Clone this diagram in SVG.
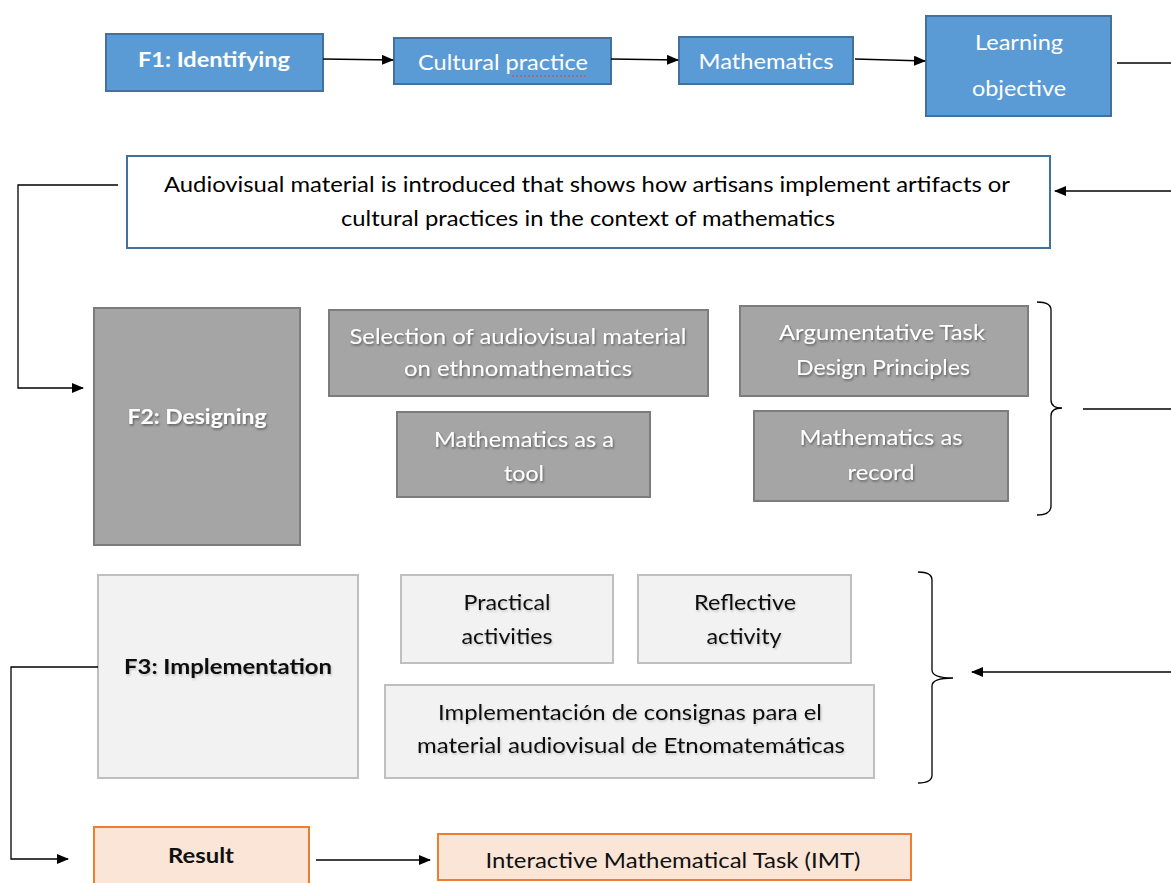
<svg xmlns="http://www.w3.org/2000/svg" width="1171" height="883" viewBox="0 0 1171 883">
<defs>
<marker id="ah" markerWidth="12" markerHeight="10" refX="11" refY="5" orient="auto" markerUnits="userSpaceOnUse">
<path d="M0,0 L12,5 L0,10 Z" fill="#000"/>
</marker>
<filter id="sh" x="-10%" y="-30%" width="120%" height="160%">
<feDropShadow dx="1" dy="1.5" stdDeviation="0.8" flood-color="#000" flood-opacity="0.45"/>
</filter>
<filter id="sh2" x="-10%" y="-30%" width="120%" height="160%">
<feDropShadow dx="1" dy="1.5" stdDeviation="0.8" flood-color="#000" flood-opacity="0.2"/>
</filter>
</defs>
<style>
text{font-family:Lato,"Open Sans","Liberation Sans",sans-serif;font-size:21px;text-anchor:middle}
.blue rect{fill:#5b9bd5;stroke:#41719c;stroke-width:2}
.blue text{fill:#fff}
.gray rect{fill:#a5a5a5;stroke:#7c7c7c;stroke-width:2}
.gray text{fill:#fff;filter:url(#sh)}
.light rect{fill:#f2f2f2;stroke:#bfbfbf;stroke-width:2}
.light text{fill:#111;filter:url(#sh2)}
.orange rect{fill:#fbe5d6;stroke:#ed7d31;stroke-width:2}
.orange text{fill:#111}
.b{font-weight:bold}
.ln{fill:none;stroke:#000;stroke-width:1.3}
.ar{marker-end:url(#ah)}
</style>
<rect width="1171" height="883" fill="#fff"/>

<g id="f1" class="blue"><rect x="106" y="34" width="217" height="57"/><text x="214" y="67" class="b" textLength="152" lengthAdjust="spacingAndGlyphs">F1: Identifying</text></g>
<g id="cultural" class="blue"><rect x="394" y="38" width="217" height="46"/><text x="503" y="70" textLength="170" lengthAdjust="spacingAndGlyphs">Cultural practice</text><line x1="512" y1="76" x2="588" y2="76" stroke="#e04040" stroke-width="1" stroke-dasharray="2,2"/></g>
<g id="mathematics" class="blue"><rect x="679" y="37" width="174" height="47"/><text x="766" y="69" textLength="135" lengthAdjust="spacingAndGlyphs">Mathematics</text></g>
<g id="learning" class="blue"><rect x="926" y="16" width="185" height="100"/><text x="1019" y="50" textLength="88" lengthAdjust="spacingAndGlyphs">Learning</text><text x="1019" y="96" textLength="94" lengthAdjust="spacingAndGlyphs">objective</text></g>

<g id="audiovisual"><rect x="127" y="156" width="923" height="92" fill="#fff" stroke="#41719c" stroke-width="2"/><text x="587" y="192" fill="#000" textLength="846" lengthAdjust="spacingAndGlyphs">Audiovisual material is introduced that shows how artisans implement artifacts or</text><text x="588" y="226" fill="#000" textLength="494" lengthAdjust="spacingAndGlyphs">cultural practices in the context of mathematics</text></g>

<g id="f2" class="gray"><rect x="94" y="308" width="206" height="237"/><text x="197" y="424" class="b" textLength="139" lengthAdjust="spacingAndGlyphs">F2: Designing</text></g>
<g id="selection" class="gray"><rect x="329" y="310" width="379" height="86"/><text x="518" y="344" textLength="337" lengthAdjust="spacingAndGlyphs">Selection of audiovisual material</text><text x="518" y="376" textLength="228" lengthAdjust="spacingAndGlyphs">on ethnomathematics</text></g>
<g id="argumentative" class="gray"><rect x="740" y="306" width="288" height="90"/><text x="882" y="340" textLength="206" lengthAdjust="spacingAndGlyphs">Argumentative Task</text><text x="883" y="375" textLength="174" lengthAdjust="spacingAndGlyphs">Design Principles</text></g>
<g id="tool" class="gray"><rect x="397" y="412" width="253" height="85"/><text x="524" y="447" textLength="180" lengthAdjust="spacingAndGlyphs">Mathematics as a</text><text x="524" y="481" textLength="40" lengthAdjust="spacingAndGlyphs">tool</text></g>
<g id="record" class="gray"><rect x="754" y="411" width="254" height="90"/><text x="881" y="445" textLength="163" lengthAdjust="spacingAndGlyphs">Mathematics as</text><text x="881" y="480" textLength="67" lengthAdjust="spacingAndGlyphs">record</text></g>

<g id="f3" class="light"><rect x="98" y="575" width="260" height="203"/><text x="228" y="674" class="b" textLength="208" lengthAdjust="spacingAndGlyphs">F3: Implementation</text></g>
<g id="practical" class="light"><rect x="401" y="575" width="212" height="88"/><text x="507" y="610" textLength="87" lengthAdjust="spacingAndGlyphs">Practical</text><text x="507" y="644" textLength="91" lengthAdjust="spacingAndGlyphs">activities</text></g>
<g id="reflective" class="light"><rect x="638" y="575" width="213" height="88"/><text x="745" y="610" textLength="102" lengthAdjust="spacingAndGlyphs">Reflective</text><text x="744" y="644" textLength="75" lengthAdjust="spacingAndGlyphs">activity</text></g>
<g id="consignas" class="light"><rect x="385" y="685" width="489" height="93"/><text x="630" y="720" textLength="384" lengthAdjust="spacingAndGlyphs">Implementación de consignas para el</text><text x="631" y="753" textLength="428" lengthAdjust="spacingAndGlyphs">material audiovisual de Etnomatemáticas</text></g>

<g id="result" class="orange"><rect x="94" y="827" width="215" height="70"/><text x="201" y="863" class="b" textLength="66" lengthAdjust="spacingAndGlyphs">Result</text></g>
<g id="imt" class="orange"><rect x="438" y="834" width="473" height="46"/><text x="673" y="868" textLength="375" lengthAdjust="spacingAndGlyphs">Interactive Mathematical Task (IMT)</text></g>

<g id="connectors">
<line class="ln ar" x1="323" y1="59" x2="393" y2="60"/>
<line class="ln ar" x1="611" y1="59" x2="678" y2="60"/>
<line class="ln ar" x1="855" y1="59" x2="925" y2="61"/>
<line class="ln" x1="1117" y1="63" x2="1171" y2="63"/>
<line class="ln ar" x1="1171" y1="191" x2="1055" y2="191"/>
<polyline class="ln ar" points="118,185 18,185 18,388 83,388"/>
<path class="ln" d="M1037,302 Q1051,302 1051,310 L1051,400 Q1051,408 1062,408 Q1051,408 1051,416 L1051,506 Q1051,515 1037,515"/>
<line class="ln" x1="1083" y1="409" x2="1171" y2="409"/>
<path class="ln" d="M918,572 Q932,572 932,580 L932,670 Q932,678 953,678 Q932,678 932,686 L932,775 Q932,783 918,783"/>
<line class="ln ar" x1="1171" y1="672" x2="972" y2="672"/>
<polyline class="ln ar" points="98,667 11,667 11,859 68,859" stroke="#333"/>
<line class="ln ar" x1="316" y1="860" x2="430" y2="860"/>
</g>
</svg>
